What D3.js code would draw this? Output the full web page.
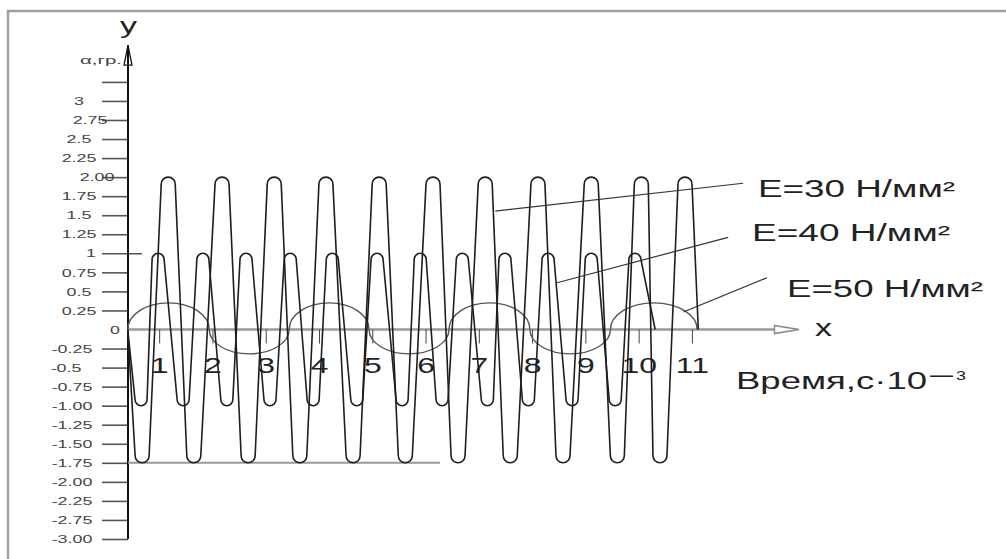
<!DOCTYPE html>
<html><head><meta charset="utf-8">
<script src="https://cdn.jsdelivr.net/npm/d3@7"></script>
<style>
html,body{margin:0;padding:0;background:#fff;}
svg{display:block;}
text{font-family:"Liberation Sans", Arial, sans-serif;}
</style></head><body>
<svg id="chart" width="1006" height="559"></svg>
<script>
// ---------------- data ----------------
const xTickValues = [1, 2, 3, 4, 5, 6, 7, 8, 9, 10, 11];
const xTickLabels = ["1", "2", "3", "4", "5", "6", "7", "8", "9", "10", "11"];
const yTickValues = [3.25, 3, 2.75, 2.5, 2.25, 2, 1.75, 1.5, 1.25, 1, 0.75, 0.5, 0.25, 0,
  -0.25, -0.5, -0.75, -1, -1.25, -1.5, -1.75, -2, -2.25, -2.5, -2.75];
const yTickLabels = ["", "3", "2.75", "2.5", "2.25", "2.00", "1.75", "1.5", "1.25", "1", "0.75", "0.5", "0.25", "0",
  "-0.25", "-0.5", "-0.75", "-1.00", "-1.25", "-1.50", "-1.75", "-2.00", "-2.25", "-2.75", "-3.00"];

const seriesNames = ["E=30 Н/мм²", "E=40 Н/мм²", "E=50 Н/мм²"];

// E=30: turning points (time, angle)
const e30Time = [0.41, 0.68, 1.17, 1.65, 2.18, 2.67, 3.16, 3.64, 4.13, 4.64, 5.13, 5.62, 6.14,
  6.61, 7.12, 7.59, 8.11, 8.58, 9.11, 9.60, 10.05, 10.40, 10.87, 11.12];
const e30Value = [0, -1.75, 2, -1.75, 2, -1.75, 2, -1.75, 2, -1.75, 2, -1.75, 2,
  -1.75, 2, -1.75, 2, -1.75, 2, -1.75, 2, -1.75, 2, 0];

// E=40: turning points
const e40Time = [0.41, 0.66, 0.98, 1.45, 1.82, 2.27, 2.63, 3.08, 3.46, 3.89, 4.25, 4.71, 5.09,
  5.56, 5.90, 6.31, 6.69, 7.16, 7.49, 7.93, 8.30, 8.75, 9.11, 9.56, 9.93, 10.31];
const e40Value = [0, -1, 1, -1, 1, -1, 1, -1, 1, -1, 1, -1, 1,
  -1, 1, -1, 1, -1, 1, -1, 1, -1, 1, -1, 1, 0];

// E=50: zero crossings and the extreme value of each half-wave between them
const e50Cross = [0.41, 1.94, 3.44, 4.94, 6.44, 7.96, 9.47, 11.10];
const e50Peak = [0.35, -0.32, 0.35, -0.32, 0.35, -0.32, 0.35];

// ---------------- layout ----------------
const svg = d3.select("#chart");
const x = d3.scaleLinear().domain([0.415, 13.01]).range([128, 799]);
const y = d3.scaleLinear().domain([-2.75, 3.25]).range([539, 81.9]);
const X0 = x(x.domain()[0]), Y0 = y(0);

// frame
svg.append("path").attr("d", "M8,559 V11 H1006")
  .attr("fill", "none").attr("stroke", "#a0a0a0").attr("stroke-width", 2.5);

// ---- y axis ----
const yAxisG = svg.append("g").attr("transform", `translate(${X0},0)`)
  .call(d3.axisLeft(y).tickValues(yTickValues).tickSize(26)
    .tickFormat((d, i) => yTickLabels[i]));
yAxisG.select(".domain").remove();
yAxisG.selectAll(".tick line").attr("stroke", "#555").attr("stroke-width", 1.6)
  .attr("x1", d => d === 1 ? 14 : 0)
  .attr("opacity", d => d === 0 ? 0 : 1);
const yLabelShift = {"2.75": 11, "2.00": 18, "1": 12, "0": 36, "-0.5": -6};
yAxisG.selectAll(".tick text")
  .attr("fill", "#444").attr("font-size", 10.5)
  .attr("text-anchor", "middle").attr("x", 0).attr("dy", "0.35em")
  .attr("transform", (d, i) => {
    const lab = yTickLabels[i];
    const cx = (d >= 0 ? -49 : -56) + (yLabelShift[lab] || 0);
    return `translate(${cx},0) scale(1.7,1)`;
  });

svg.append("line").attr("x1", X0).attr("x2", X0)
  .attr("y1", y(3.73)).attr("y2", y(-2.75))
  .attr("stroke", "#111").attr("stroke-width", 2);
svg.append("path")
  .attr("d", `M${X0},${y(3.73)} L${X0 - 4},${y(3.47)} L${X0 + 4},${y(3.47)} Z`)
  .attr("fill", "none").attr("stroke", "#111").attr("stroke-width", 1.3);

// ---- x axis ----
svg.append("line").attr("x1", X0).attr("x2", x(12.55))
  .attr("y1", Y0).attr("y2", Y0)
  .attr("stroke", "#9a9a9a").attr("stroke-width", 2.5);
svg.append("path")
  .attr("d", `M${x(12.55)},${Y0 - 4} L${x(13.01)},${Y0} L${x(12.55)},${Y0 + 4} Z`)
  .attr("fill", "#fff").attr("stroke", "#888").attr("stroke-width", 1.5);

const xAxisG = svg.append("g").attr("transform", `translate(0,${Y0})`)
  .call(d3.axisBottom(x).tickValues(xTickValues).tickSize(14)
    .tickFormat((d, i) => xTickLabels[i]));
xAxisG.select(".domain").remove();
xAxisG.selectAll(".tick line").attr("stroke", "#444").attr("stroke-width", 1);
xAxisG.selectAll(".tick text")
  .attr("fill", "#222").attr("font-size", 22).attr("y", 43.5).attr("dy", 0)
  .attr("transform", "scale(1.45,1)");

// line at -1.75
svg.append("line").attr("x1", X0).attr("x2", x(6.27))
  .attr("y1", y(-1.75)).attr("y2", y(-1.75))
  .attr("stroke", "#9a9a9a").attr("stroke-width", 2);

// ---- curves ----
function wavePath(times, values, r) {
  const p = d3.path();
  p.moveTo(x(times[0]), y(values[0]));
  for (let i = 1; i < times.length - 1; i++) {
    const cx = x(times[i]), vy = y(values[i]);
    if (values[i] > 0) p.arc(cx, vy + r, r, Math.PI, 2 * Math.PI, false);
    else p.arc(cx, vy - r, r, Math.PI, 0, true);
  }
  p.lineTo(x(times[times.length - 1]), y(values[values.length - 1]));
  return p.toString();
}

let d50 = `M${x(e50Cross[0])},${Y0}`;
e50Peak.forEach((pk, i) => {
  const xa = x(e50Cross[i]), xb = x(e50Cross[i + 1]);
  const rx = (xb - xa) / 2, ry = Math.abs(y(pk) - Y0);
  d50 += ` A${rx},${ry} 0 0 ${pk > 0 ? 1 : 0} ${xb},${Y0}`;
});
svg.append("path").attr("d", d50).attr("fill", "none")
  .attr("stroke", "#555").attr("stroke-width", 1.4);

svg.append("path").attr("d", wavePath(e40Time, e40Value, 6))
  .attr("fill", "none").attr("stroke", "#1e1e1e").attr("stroke-width", 1.6);
svg.append("path").attr("d", wavePath(e30Time, e30Value, 7))
  .attr("fill", "none").attr("stroke", "#1e1e1e").attr("stroke-width", 1.6);

// ---- callouts ----
const callouts = [
  {name: seriesNames[0], a: [7.31, 1.555], b: [11.96, 1.92], tx: 758, ty: 197, w: 197},
  {name: seriesNames[1], a: [8.45, 0.61], b: [11.68, 1.21], tx: 752, ty: 241, w: 198},
  {name: seriesNames[2], a: [10.84, 0.23], b: [12.41, 0.68], tx: 787, ty: 297, w: 196}
];
callouts.forEach(c => {
  svg.append("line").attr("x1", x(c.a[0])).attr("y1", y(c.a[1]))
    .attr("x2", x(c.b[0])).attr("y2", y(c.b[1]))
    .attr("stroke", "#333").attr("stroke-width", 1.2);
  svg.append("text").attr("x", c.tx).attr("y", c.ty)
    .attr("font-size", 23).attr("fill", "#222")
    .attr("textLength", c.w).attr("lengthAdjust", "spacingAndGlyphs")
    .text(c.name);
});

// ---- axis titles ----
svg.append("text").attr("x", X0 - 8).attr("y", 33).attr("font-size", 22).attr("fill", "#222")
  .attr("textLength", 17).attr("lengthAdjust", "spacingAndGlyphs").text("y");
svg.append("text").attr("x", 80).attr("y", 64).attr("font-size", 11).attr("fill", "#444")
  .attr("textLength", 42).attr("lengthAdjust", "spacingAndGlyphs").text("α,гр.");
svg.append("text").attr("x", 815).attr("y", 336).attr("font-size", 24).attr("fill", "#222")
  .attr("textLength", 17).attr("lengthAdjust", "spacingAndGlyphs").text("x");
svg.append("text").attr("x", 736).attr("y", 389).attr("font-size", 23).attr("fill", "#222")
  .attr("textLength", 191).attr("lengthAdjust", "spacingAndGlyphs").text("Время,с·10");
svg.append("text").attr("x", 930).attr("y", 382).attr("font-size", 23).attr("fill", "#222")
  .attr("textLength", 23).attr("lengthAdjust", "spacingAndGlyphs").text("–");
svg.append("text").attr("x", 956).attr("y", 380).attr("font-size", 13).attr("fill", "#222")
  .attr("textLength", 10).attr("lengthAdjust", "spacingAndGlyphs").text("3");
</script>
</body></html>
